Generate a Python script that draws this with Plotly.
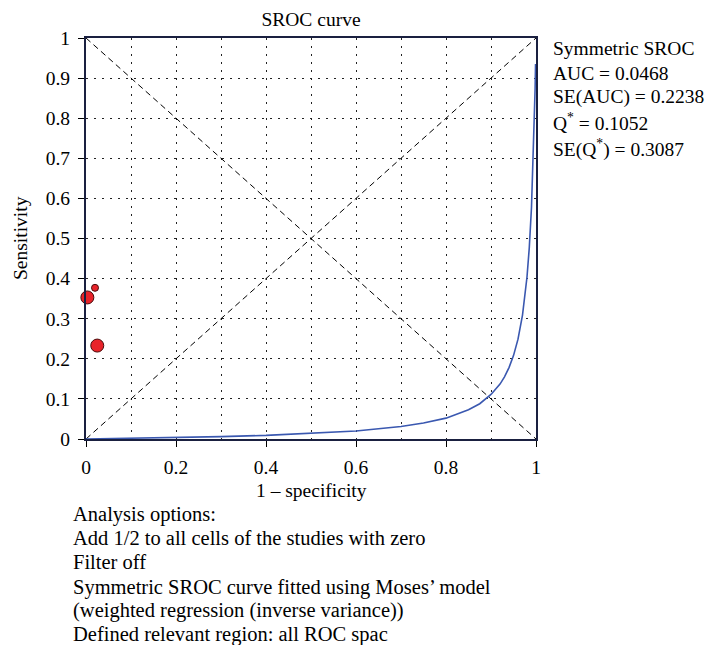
import plotly.graph_objects as go

# Study points (1 - specificity, sensitivity, relative size)
study_fpr = [0.003, 0.020, 0.025]
study_sens = [0.353, 0.377, 0.233]
study_size = [13, 7, 13]

# Fitted symmetric SROC curve
curve_fpr = [0.0, 0.1, 0.2, 0.3, 0.4, 0.5, 0.6, 0.7, 0.75, 0.8, 0.85, 0.875, 0.9,
             0.92, 0.93, 0.94, 0.95, 0.96, 0.97, 0.98, 0.985, 0.99, 0.995, 0.998, 0.999]
curve_sens = [0.0, 0.0015, 0.0034, 0.006, 0.009, 0.014, 0.020, 0.031, 0.040, 0.052,
              0.073, 0.088, 0.111, 0.137, 0.155, 0.178, 0.208, 0.249, 0.309, 0.404,
              0.476, 0.578, 0.734, 0.873, 0.935]

diag_x = [0, 1]
diag_up = [0, 1]
diag_down = [1, 0]

x_ticks = [0, 0.2, 0.4, 0.6, 0.8, 1]
x_ticktext = ["0", "0.2", "0.4", "0.6", "0.8", "1"]
y_ticks = [0, 0.1, 0.2, 0.3, 0.4, 0.5, 0.6, 0.7, 0.8, 0.9, 1]
y_ticktext = ["0", "0.1", "0.2", "0.3", "0.4", "0.5", "0.6", "0.7", "0.8", "0.9", "1"]

stats_lines = ["Symmetric SROC", "AUC = 0.0468", "SE(AUC) = 0.2238",
               "Q<sup>*</sup> = 0.1052", "SE(Q<sup>*</sup>) = 0.3087"]
option_lines = ["Analysis options:",
                "Add 1/2 to all cells of the studies with zero",
                "Filter off",
                "Symmetric SROC curve fitted using Moses\u2019 model",
                "(weighted regression (inverse variance))",
                "Defined relevant region: all ROC spac"]

FONT = "Liberation Serif"
FS = 19.5
L, R, T, B = 86, 536, 38, 439
W, H = 708, 645


def px_x(px):
    return (px - L) / (R - L)


def px_y(py):
    return (B - py) / (B - T)


fig = go.Figure()

fig.add_trace(go.Scatter(x=diag_x, y=diag_up, mode="lines",
                         line=dict(color="black", width=1, dash="6px,4px"),
                         hoverinfo="skip", showlegend=False))
fig.add_trace(go.Scatter(x=diag_x, y=diag_down, mode="lines",
                         line=dict(color="black", width=1, dash="6px,4px"),
                         hoverinfo="skip", showlegend=False))
fig.add_trace(go.Scatter(x=curve_fpr, y=curve_sens, mode="lines",
                         line=dict(color="#3a58b0", width=1.6),
                         showlegend=False))
fig.add_trace(go.Scatter(x=study_fpr, y=study_sens, mode="markers",
                         marker=dict(color="#e8232a", size=study_size, opacity=1,
                                     line=dict(color="#4a0c0c", width=1)),
                         opacity=1, showlegend=False, cliponaxis=False))

axis_common = dict(range=[0, 1], showline=True, mirror=True, linecolor="#1a2040",
                   linewidth=2, ticks="outside", ticklen=6, tickcolor="black",
                   showgrid=True, gridcolor="#222", gridwidth=1, griddash="2px,6px",
                   zeroline=False, automargin=False,
                   tickfont=dict(family=FONT, size=FS, color="black"))

fig.update_xaxes(**axis_common, tickvals=x_ticks, ticktext=x_ticktext,
                 ticklabelstandoff=4,
                 minor=dict(tickvals=[0.1, 0.3, 0.5, 0.7, 0.9], showgrid=True,
                            gridcolor="#222", gridwidth=1, griddash="2px,6px", ticks=""))
fig.update_yaxes(**axis_common, tickvals=y_ticks, ticktext=y_ticktext,
                 ticklabelstandoff=4)

annotations = [
    dict(text="1 \u2013 specificity", xref="paper", yref="paper",
         x=px_x(311), y=px_y(490), xanchor="center", yanchor="middle",
         showarrow=False, font=dict(family=FONT, size=FS, color="black")),
    dict(text="Sensitivity", xref="paper", yref="paper", textangle=-90,
         x=px_x(20), y=px_y(238), xanchor="center", yanchor="middle",
         showarrow=False, font=dict(family=FONT, size=FS, color="black")),
]
stat_y = [48, 73, 97, 122, 148]
for txt, py in zip(stats_lines, stat_y):
    annotations.append(dict(text=txt, xref="paper", yref="paper",
                            x=px_x(551), y=px_y(py),
                            xanchor="left", yanchor="middle", showarrow=False,
                            font=dict(family=FONT, size=FS, color="black")))
opt_y = [514, 538, 562, 587, 610, 634]
for txt, py in zip(option_lines, opt_y):
    annotations.append(dict(text=txt, xref="paper", yref="paper",
                            x=px_x(71), y=px_y(py),
                            xanchor="left", yanchor="middle", showarrow=False,
                            font=dict(family=FONT, size=20.5, color="black")))

fig.update_layout(
    width=W, height=H,
    margin=dict(l=L, r=W - R, t=T, b=H - B),
    paper_bgcolor="white", plot_bgcolor="white",
    title=dict(text="SROC curve", x=311 / W, xanchor="center",
               y=1 - 19 / H, yanchor="middle",
               font=dict(family=FONT, size=FS, color="black")),
    annotations=annotations,
    font=dict(family=FONT, color="black"),
)

fig.write_html("out.html", config={"displayModeBar": False},
               post_script="document.body.style.margin='0px';document.body.style.overflow='hidden';")
